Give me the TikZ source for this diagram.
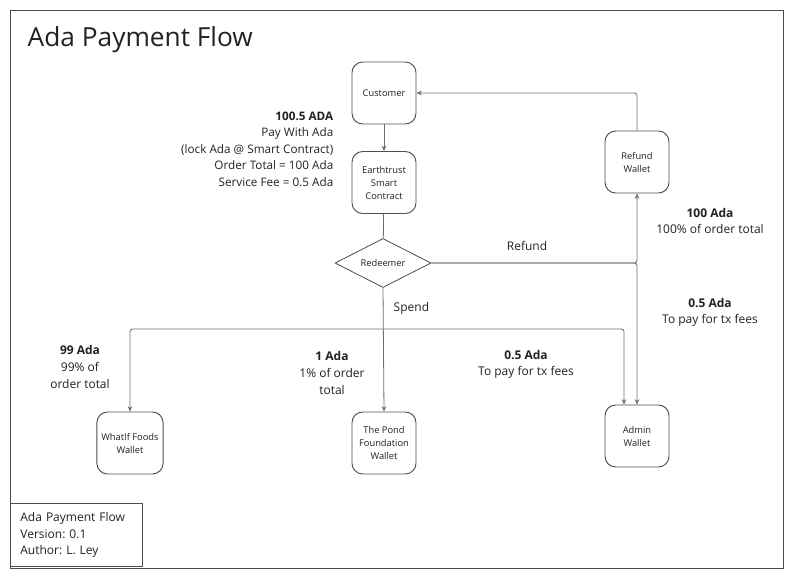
\documentclass[tikz,border=0pt]{standalone}
\usepackage{fontspec}
\setmainfont{Open Sans}
\usetikzlibrary{shapes.geometric,arrows.meta}
\frenchspacing
\definecolor{linegray}{HTML}{6E6E6E}
\definecolor{inkgray}{HTML}{222222}
\tikzset{
  wallet/.style={draw=inkgray!80, line width=0.7pt, rounded corners=8pt,
    minimum width=48pt, minimum height=46.5pt, align=center, text=inkgray,
    font=\fontsize{7}{9.75}\selectfont},
  flow/.style={draw=linegray, line width=0.6pt, rounded corners=2pt},
  tip/.style={-{Stealth[length=4pt,width=3.5pt]}},
  amount/.style={align=center, text=inkgray, font=\fontsize{9}{12.4}\selectfont}
}
\begin{document}
\begin{tikzpicture}[x=0.75pt,y=-0.75pt]
\useasboundingbox (0,0) rectangle (793,579);
\draw[inkgray!80, line width=0.6pt] (10,10) rectangle (783,568);
\node[anchor=west, text=inkgray, font=\fontsize{19.7}{23}\selectfont] (title) at (23,40) {Ada Payment Flow};
% nodes
\node[wallet] (customer) at (384,93) {Customer};
\node[wallet] (contract) at (384,182.5) {Earthtrust\\Smart\\Contract};
\node[diamond, draw=inkgray!80, line width=0.6pt, aspect=2, inner sep=1pt,
  minimum width=72pt, minimum height=36.75pt, text=inkgray,
  font=\fontsize{7}{9}\selectfont] (redeemer) at (383,263) {Redeemer};
\node[wallet] (refund) at (637,162) {Refund\\Wallet};
\node[wallet] (whatif) at (130,443) {WhatIf Foods\\Wallet};
\node[wallet] (pond) at (384,443) {The Pond\\Foundation\\Wallet};
\node[wallet] (admin) at (637,436) {Admin\\Wallet};
% connectors
\draw[flow,tip] (customer) -- (contract);
\draw[flow] (contract) -- (redeemer);
\draw[flow,tip] (redeemer.east) -| (refund.south);
\draw[flow,tip] (refund.north) |- (customer.east);
\draw[flow,tip] (redeemer.east) -| (admin.north);
\draw[flow,tip] (redeemer.south) -- (pond.north);
\coordinate (split) at (384,329);
\draw[flow,tip] (split) -| (whatif.north);
\draw[flow,tip] (split) -| ([xshift=-9.75pt]admin.north);
% labels
\node[amount, align=right, anchor=east, font=\fontsize{8.8}{12.4}\selectfont] (paylbl) at (338,149)
  {\textbf{100.5 ADA}\\Pay With Ada\\(lock Ada @ Smart Contract)\\Order Total = 100 Ada\\Service Fee = 0.5 Ada};
\node[amount] (refundlbl) at (527,246) {Refund};
\node[amount, anchor=west] (spendlbl) at (389,308) {Spend};
\node[amount] (refundamt) at (710,221) {\textbf{100 Ada}\\100\% of order total};
\node[amount] (adminfee) at (710,312.5) {\textbf{0.5 Ada}\\To pay for tx fees};
\node[amount] (whatifamt) at (80,367) {\textbf{99 Ada}\\99\% of\\order total};
\node[amount] (pondamt) at (332,373) {\textbf{1 Ada}\\1\% of order\\total};
\node[amount] (adminamt) at (526,364.5) {\textbf{0.5 Ada}\\To pay for tx fees};
% info box
\node[draw=inkgray!80, line width=0.6pt, anchor=north west, align=left, text=inkgray,
  text width=84pt, inner xsep=7.5pt, minimum height=47.25pt,
  font=\fontsize{9}{12.4}\selectfont] (info) at (10,503)
  {Ada Payment Flow\\Version: 0.1\\Author: L. Ley};
\end{tikzpicture}
\end{document}
